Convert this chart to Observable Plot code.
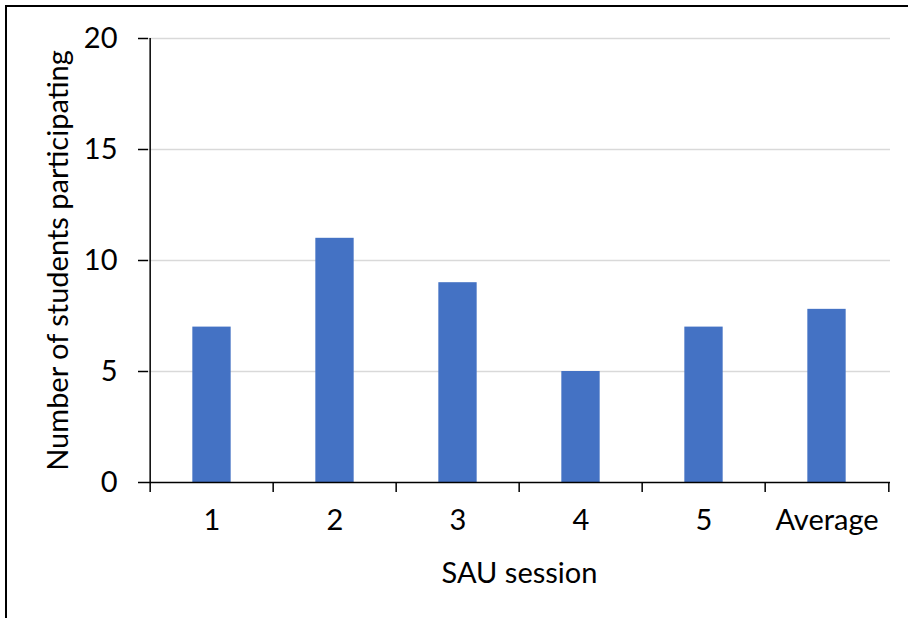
<!DOCTYPE html>
<html>
<head>
<meta charset="utf-8">
<script src="https://cdn.jsdelivr.net/npm/d3@7"></script>
<script src="https://cdn.jsdelivr.net/npm/@observablehq/plot@0.6"></script>
<style>
  html, body { margin: 0; padding: 0; background: #fff; }
  #wrap { position: relative; width: 908px; height: 618px; overflow: hidden; }
  #frame { position: absolute; left: 5px; top: 5px; width: 903px; height: 613px;
           border-top: 2px solid #000; border-left: 2px solid #000; box-sizing: border-box; pointer-events: none; }
  #chart svg { display: block; }
</style>
</head>
<body>
<div id="wrap"><div id="chart"></div><div id="frame"></div></div>
<script>
// Students attending each SAU session, plus the average across sessions
const sessions = ["1", "2", "3", "4", "5", "Average"];
const students = [7, 11, 9, 5, 7, 7.8];
const yTicks = [0, 5, 10, 15, 20];

const data = sessions.map((s, i) => ({session: s, count: students[i]}));

const W = 908, H = 618;
const mL = 148, mR = 18, mT = 38, mB = 136;
const step = (W - mL - mR) / sessions.length;
const barW = 39;
const inset = (step - barW) / 2;
const font = "Lato, 'Open Sans', sans-serif";
const fs = 29;

const chart = Plot.plot({
  width: W,
  height: H,
  marginLeft: mL,
  marginRight: mR,
  marginTop: mT,
  marginBottom: mB,
  style: {fontFamily: font, fontSize: fs + "px", color: "#000", background: "transparent"},
  x: {domain: sessions, padding: 0, align: 0.5},
  y: {domain: [0, 20]},
  marks: [
    Plot.gridY(yTicks.slice(1), {stroke: "#d9d9d9", strokeOpacity: 1, strokeWidth: 1.5}),
    Plot.barY(data, {x: "session", y: "count", fill: "#4472C4", insetLeft: inset, insetRight: inset}),
    // value axis: outward ticks and numbers
    Plot.axisY(yTicks, {anchor: "left", tickSize: 10, tickPadding: 21, stroke: "#000", strokeWidth: 1.5,
      label: "Number of students participating", labelAnchor: "center", labelArrow: "none", labelOffset: 101,
      fontSize: fs}),
    // vertical axis line along the left edge of the first band
    Plot.ruleX(sessions.slice(0, 1), {x: d => d, dx: -step / 2, y1: 0, y2: 20, stroke: "#000", strokeWidth: 1.5}),
    // category labels centred in each band
    Plot.axisX({anchor: "bottom", tickSize: 0, tickPadding: 27, fontSize: fs,
      label: "SAU session", labelAnchor: "center", labelArrow: "none", labelOffset: 100}),
    // tick marks on the band boundaries
    Plot.axisX(sessions, {anchor: "bottom", tickSize: 10, text: null, label: null, dx: -step / 2, stroke: "#000", strokeWidth: 1.5}),
    Plot.axisX(sessions.slice(-1), {anchor: "bottom", tickSize: 10, text: null, label: null, dx: step / 2, stroke: "#000", strokeWidth: 1.5}),
    Plot.ruleY([0], {stroke: "#000", strokeWidth: 1.5})
  ]
});

document.getElementById("chart").appendChild(chart);
</script>
</body>
</html>
